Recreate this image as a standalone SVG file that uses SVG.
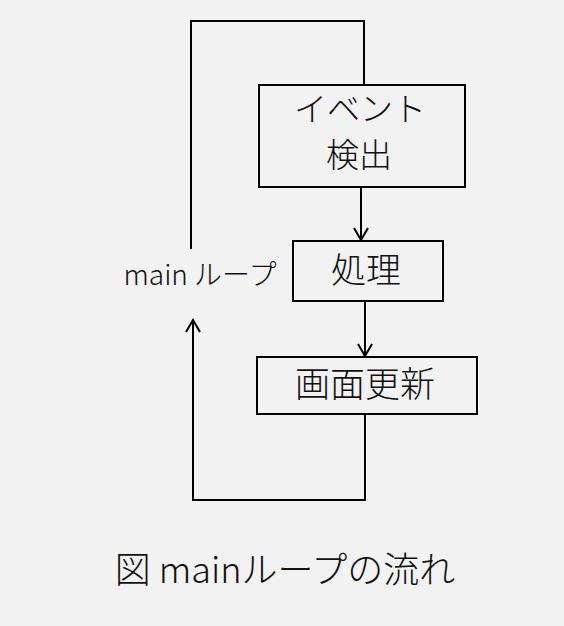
<svg xmlns="http://www.w3.org/2000/svg" width="564" height="626" viewBox="0 0 564 626">
<style>
.box{fill:none;stroke:#000;stroke-width:2}
.ln{fill:none;stroke:#000;stroke-width:2}
.t{font-family:"Noto Sans CJK JP","Noto Sans",sans-serif;fill:#111;text-anchor:middle;font-weight:300}
</style>
<defs>
<marker id="ah" viewBox="0 0 16 16" refX="14" refY="8" markerWidth="16" markerHeight="16" markerUnits="userSpaceOnUse" orient="auto">
<path d="M2,1 L14,8 L2,15" fill="none" stroke="#000" stroke-width="2"/>
</marker>
</defs>
<rect width="564" height="626" fill="#f2f2f2"/>
<g id="connectors">
<polyline class="ln" points="364,84 364,21 191,21 191,249"/>
<line class="ln" x1="361" y1="187" x2="361" y2="240" marker-end="url(#ah)"/>
<line class="ln" x1="365" y1="301" x2="365" y2="356" marker-end="url(#ah)"/>
<polyline class="ln" points="365,414 365,500 193,500 193,320" marker-end="url(#ah)"/>
</g>
<g id="event">
<rect class="box" x="259" y="85" width="206" height="102"/>
<text class="t" x="360" y="121" font-size="33">イベント</text>
<text class="t" x="359" y="167" font-size="33">検出</text>
</g>
<g id="process">
<rect class="box" x="293" y="241" width="150" height="60"/>
<text class="t" x="366" y="283" font-size="35">処理</text>
</g>
<g id="update">
<rect class="box" x="257" y="357" width="220" height="57"/>
<text class="t" x="365" y="397" font-size="35">画面更新</text>
</g>
<g id="label">
<text class="t" x="200" y="285" font-size="28">main ループ</text>
</g>
<g id="caption">
<text class="t" x="285" y="583" font-size="36">図 mainループの流れ</text>
</g>
</svg>
